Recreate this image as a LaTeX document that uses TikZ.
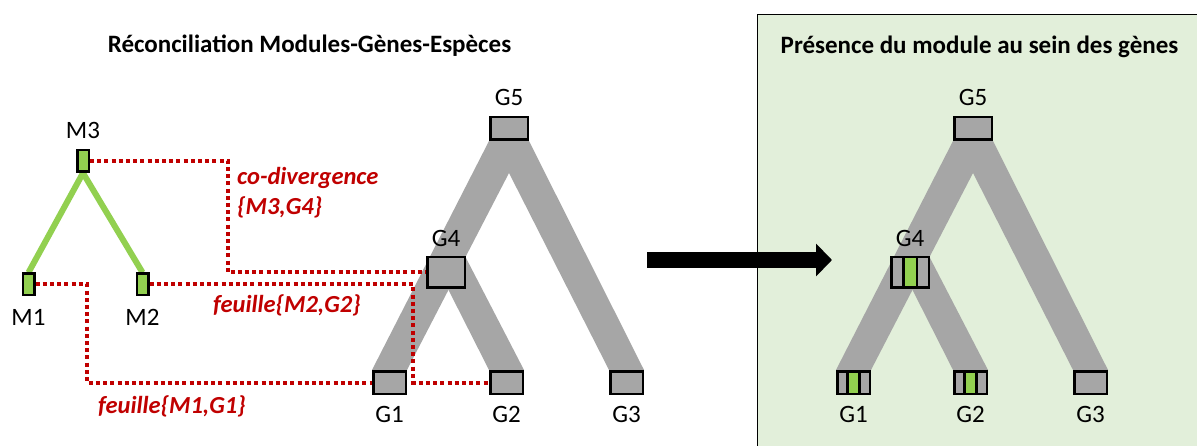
\documentclass[tikz,border=0pt]{standalone}
\usepackage{fontspec}
\setmainfont{Carlito}
\usetikzlibrary{arrows.meta}
\definecolor{mgreen}{HTML}{92D050}
\definecolor{mred}{HTML}{C00000}
\definecolor{mgray}{HTML}{A6A6A6}
\definecolor{pgreen}{HTML}{E2EFDA}
\pgfdeclarelayer{back}
\pgfdeclarelayer{mid}
\pgfsetlayers{back,mid,main}
\tikzset{
  lbl/.style={font=\fontsize{25}{29}\selectfont, inner sep=0pt},
  ttl/.style={font=\fontsize{25}{29}\selectfont\bfseries, inner sep=0pt, anchor=base},
  redlbl/.style={font=\fontsize{24.5}{29}\selectfont\bfseries\itshape, text=mred, inner sep=0pt, anchor=base west},
  mbox/.style={draw, line width=2.5pt, fill=mgreen, minimum width=11.5pt, minimum height=21.5pt, inner sep=0pt},
  gbox/.style={draw, line width=2.5pt, fill=mgray, minimum width=32.5pt, minimum height=22.5pt, inner sep=0pt},
  gbar/.style={draw, line width=2.5pt, fill=mgreen, minimum width=12pt, minimum height=22.5pt, inner sep=0pt},
  link/.style={mred, line width=4pt, dash pattern=on 4pt off 3.2pt},
  band/.style={fill=mgray},
  medge/.style={mgreen, line width=6pt},
}
\newcommand\genetree{%
  \begin{pgfonlayer}{mid}
  \fill[band] (489,141) -- (529,141) -- (644,370) -- (609,370) -- (509,173) -- (407,370) -- (372,370) -- cycle;
  \fill[band] (448,289) -- (448,258) -- (466,258) -- (524,370) -- (489,370) -- cycle;
  \end{pgfonlayer}
  \node[gbox, minimum width=37.5pt] (G5) at (509,128.5) {};
  \node[gbox, minimum width=37.5pt, minimum height=30.5pt] (G4) at (446,272.5) {};
  \node[gbox] (G1) at (389.5,382.5) {};
  \node[gbox] (G2) at (506.5,382.5) {};
  \node[gbox] (G3) at (626.5,382.5) {};
  \node[lbl] (G5l) at (509,97.5) {G5};
  \node[lbl] (G4l) at (446,238) {G4};
  \node[lbl] (G1l) at (389.5,414) {G1};
  \node[lbl] (G2l) at (506.5,414) {G2};
  \node[lbl] (G3l) at (626.5,414) {G3};
}
\begin{document}
\begin{tikzpicture}[x=1pt,y=-1pt]
\useasboundingbox (0,0) rectangle (1197,446);
% right panel
\begin{pgfonlayer}{back}
\draw[fill=pgreen, line width=1pt] (757,15) rectangle (1210,460);
\end{pgfonlayer}
% titles
\node[ttl] (T1) at (309.5,53) {Réconciliation Modules-Gènes-Espèces};
\node[ttl] (T2) at (979.5,54) {Présence du module au sein des gènes};
% left gene tree
\genetree
% module tree
\node[mbox] (M3) at (83,161) {};
\node[mbox] (M1) at (28.5,284.5) {};
\node[mbox] (M2) at (142.5,284.5) {};
\node[lbl] (M3l) at (83,130) {M3};
\node[lbl] (M1l) at (28.5,317) {M1};
\node[lbl] (M2l) at (142.5,317) {M2};
\begin{pgfonlayer}{mid}
\draw[medge] (M3.south) -- (M1.north);
\draw[medge] (M3.south) -- (M2.north);
% reconciliation links
\coordinate (c3) at (228,0);
\coordinate (c2) at (413,0);
\coordinate (c1) at (87,0);
\draw[link] (M3.east) -- (M3.east -| c3) -- (G4.west -| c3) -- (G4.west);
\draw[link] (M2.east) -- (M2.east -| c2) -- (G2.west -| c2) -- (G2.west);
\draw[link] (M1.east) -- (M1.east -| c1) -- (G1.west -| c1) -- (G1.west);
\end{pgfonlayer}
\node[redlbl] (t1) at (237,185) {co-divergence};
\node[redlbl] (t2) at (237,215) {\{M3,G4\}};
\node[redlbl] (t3) at (213,313) {feuille\{M2,G2\}};
\node[redlbl] (t4) at (98,413) {feuille\{M1,G1\}};
% arrow
\coordinate (aS) at (647,260);
\coordinate (aE) at (832,260);
\draw[line width=16pt, -{Triangle[length=16pt, width=32pt]}] (aS) -- (aE);
% right gene tree
\begin{scope}[shift={(464,0)}, name prefix=R-]
\genetree
\node[gbar, minimum width=13.5pt, minimum height=30.5pt] (G4b) at (G4) {};
\node[gbar] (G1b) at (G1) {};
\node[gbar] (G2b) at (G2) {};
\end{scope}
\end{tikzpicture}
\end{document}
